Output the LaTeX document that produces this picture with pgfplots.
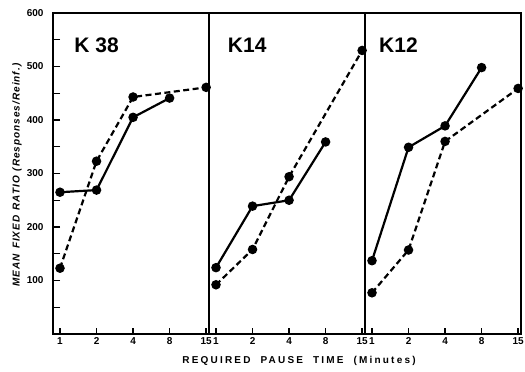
\documentclass[border=0pt]{standalone}
\usepackage{fontspec}
\setmainfont{Liberation Sans}
\newfontfamily\spaced[LetterSpace=22]{Liberation Sans}
\newfontfamily\yspaced[LetterSpace=10]{Liberation Sans}
\usepackage{pgfplots}
\pgfplotsset{compat=1.18}
\pgfplotsset{panel/.style={
  scale only axis, width=156pt, height=321pt,
  xmin=-0.19, xmax=4.08, ymin=0, ymax=600,
  axis line style={line width=1.6pt},
  xtick={0,1,2,3,4}, xticklabels={1,2,4,8,15},
  tick pos=left,
  tick align=inside, major tick length=6pt, minor tick length=6pt,
  tick style={draw=black, line width=1.4pt},
  yticklabel style={xshift=-6pt},
  tick label style={font=\bfseries\fontsize{10}{11}\selectfont},
  /pgf/number format/assume math mode=true,
  clip=false,
},
sol/.style={black, line width=2.2pt, mark=*, mark size=3.6pt},
das/.style={black, line width=2.2pt, dash pattern=on 6pt off 3.5pt, mark=*, mark size=3.6pt, mark options={solid}},
}
\begin{document}
\begin{tikzpicture}
\path[use as bounding box] (-60pt,-38pt) rectangle (465pt,334pt);
\clip (-60pt,-38pt) rectangle (465pt,334pt);
% Panel K38
\begin{axis}[panel, at={(0pt,0pt)}, anchor=origin,
  ytick={100,200,...,600}]
\addplot[sol] coordinates {(0,265) (1,269) (2,405) (3,441)};
\addplot[das] coordinates {(0,123) (1,323) (2,443) (4,461)};
\node[anchor=west, font=\bfseries\fontsize{21}{23}\selectfont] at (axis cs:0.3,540) {K 38};
\end{axis}
% y tick marks on the left axis
\foreach \i in {1,...,11} \draw[line width=1.4pt] (0pt,\i*26.75pt) -- ++(-6pt,0pt);
% Panel K14
\begin{axis}[panel, at={(156pt,0pt)}, anchor=origin, ytick=\empty]
\addplot[sol] coordinates {(0,124) (1,239) (2,250) (3,359)};
\addplot[das] coordinates {(0,92) (1,158) (2,294) (4,530)};
\node[anchor=west, font=\bfseries\fontsize{21}{23}\selectfont] at (axis cs:0.23,540) {K14};
\end{axis}
% Panel K12
\begin{axis}[panel, at={(312pt,0pt)}, anchor=origin, ytick=\empty]
\addplot[sol] coordinates {(0,137) (1,349) (2,389) (3,498)};
\addplot[das] coordinates {(0,77) (1,157) (2,360) (4,459)};
\node[anchor=west, font=\bfseries\fontsize{21}{23}\selectfont] at (axis cs:0.1,540) {K12};
\end{axis}
\node[rotate=90, font=\yspaced\bfseries\itshape\fontsize{10}{11}\selectfont] at (-43pt,159pt) {MEAN\enspace FIXED\enspace RATIO\enspace (Responses/Reinf.)};
\node[font=\spaced\bfseries\fontsize{10}{11}\selectfont] at (239pt,-27pt) {REQUIRED\quad PAUSE\quad TIME\quad (Minutes)};
\end{tikzpicture}
\end{document}
